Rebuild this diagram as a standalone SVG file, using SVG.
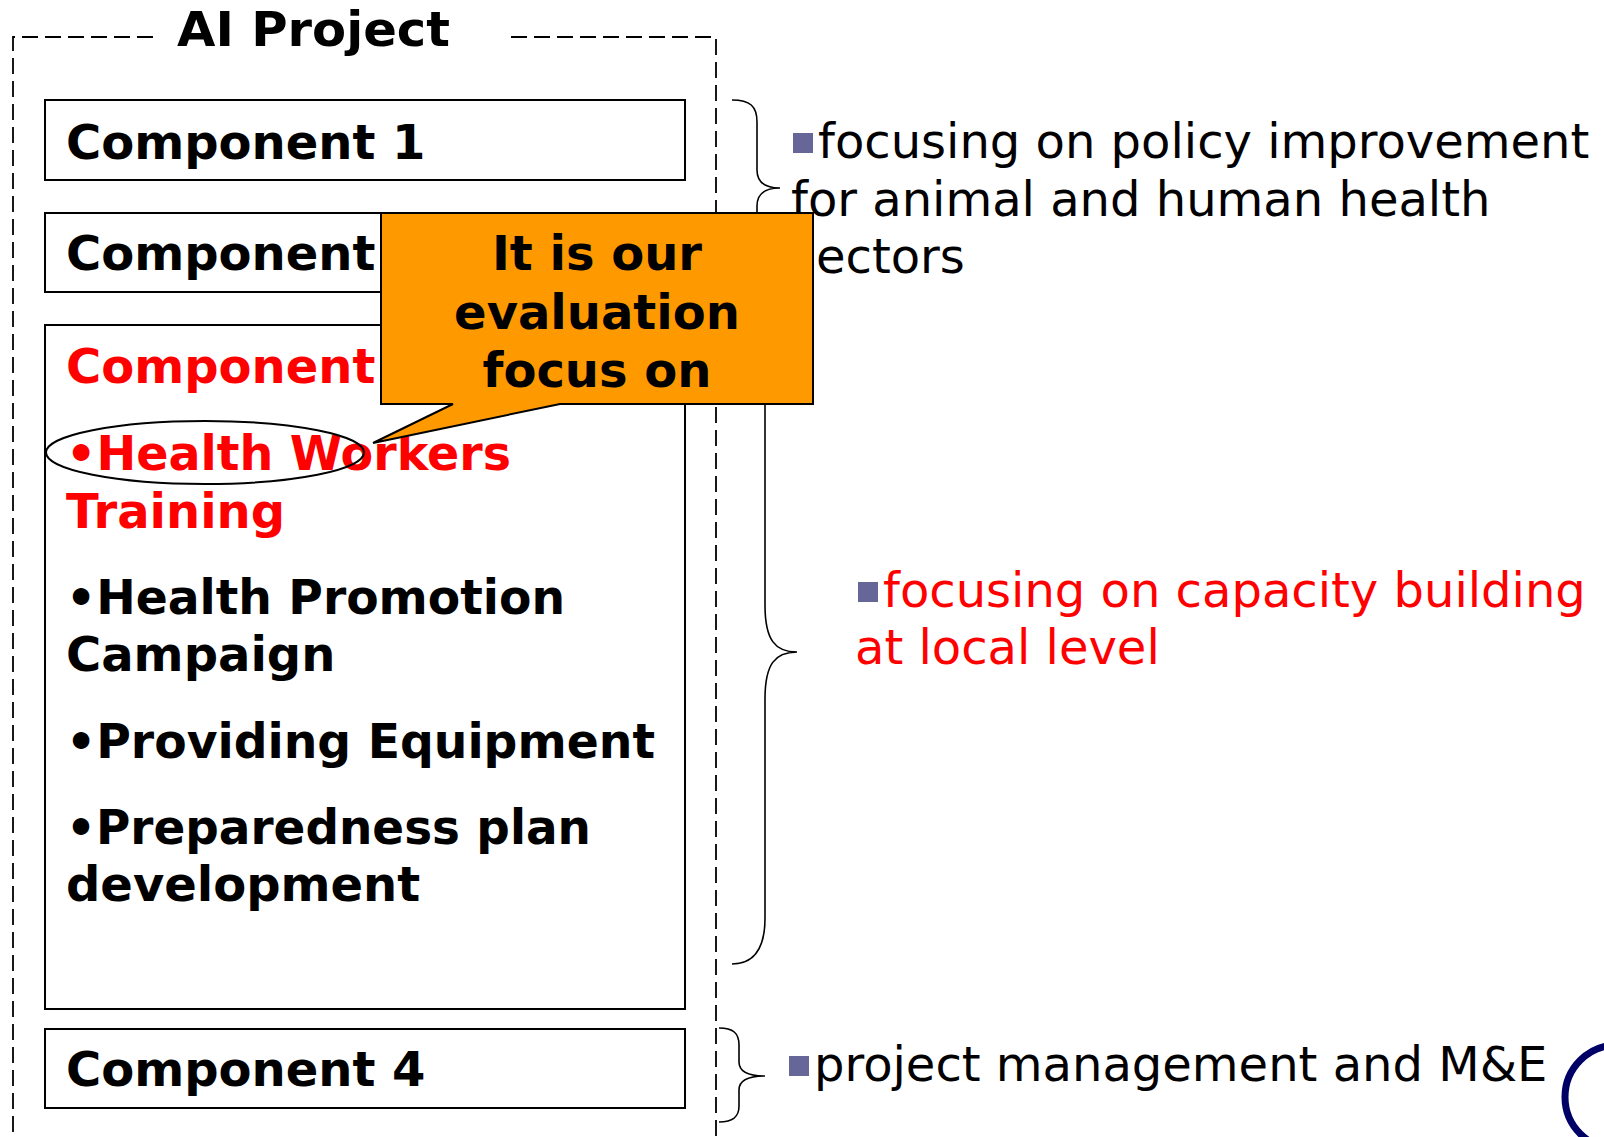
<svg xmlns="http://www.w3.org/2000/svg" width="1604" height="1137" viewBox="0 0 1604 1137">
<style>
  .b { font-family: "DejaVu Sans", Verdana, sans-serif; font-weight: bold; font-size: 48px; fill: #000; }
  .r { font-family: "DejaVu Sans", Verdana, sans-serif; font-size: 48px; fill: #000; }
  .red { fill: #FF0000; }
  .box { fill: #fff; stroke: #000; stroke-width: 2; }
  .dash { fill: none; stroke: #000; stroke-width: 1.8; stroke-dasharray: 16 7; }
  .brace { fill: none; stroke: #000; stroke-width: 1.6; }
  .sq { fill: #666699; }
</style>
<rect x="0" y="0" width="1604" height="1137" fill="#fff"/>

<g id="project-frame">
  <path class="dash" d="M153,37 H13 V1150 M511,37 H716 V1150"/>
  <text class="b" x="177" y="46" textLength="273" lengthAdjust="spacingAndGlyphs">AI Project</text>
</g>

<g id="component1">
  <rect class="box" x="45" y="100" width="640" height="80"/>
  <text class="b" x="66" y="159">Component 1</text>
</g>

<g id="component2">
  <rect class="box" x="45" y="213" width="640" height="79"/>
  <text class="b" x="66" y="270">Component 2</text>
</g>

<g id="component3">
  <rect class="box" x="45" y="325" width="640" height="684"/>
  <text class="b red" x="66" y="383">Component 3</text>
  <text class="b red" x="66" y="470" textLength="445" lengthAdjust="spacingAndGlyphs">•Health Workers</text>
  <text class="b red" x="66" y="528">Training</text>
  <text class="b" x="66" y="614" textLength="499" lengthAdjust="spacingAndGlyphs">•Health Promotion</text>
  <text class="b" x="66" y="671">Campaign</text>
  <text class="b" x="66" y="758" textLength="589" lengthAdjust="spacingAndGlyphs">•Providing Equipment</text>
  <text class="b" x="66" y="844" textLength="525" lengthAdjust="spacingAndGlyphs">•Preparedness plan</text>
  <text class="b" x="66" y="901">development</text>
</g>

<g id="component4">
  <rect class="box" x="45" y="1029" width="640" height="79"/>
  <text class="b" x="66" y="1086">Component 4</text>
</g>

<g id="note1">
  <rect class="sq" x="793" y="133" width="20" height="20"/>
  <text class="r" x="818" y="158">focusing on policy improvement</text>
  <text class="r" x="791" y="216">for animal and human health</text>
  <text class="r" x="791" y="273">sectors</text>
</g>

<g id="note3">
  <rect class="sq" x="858" y="582" width="20" height="20"/>
  <text class="r red" x="883" y="607">focusing on capacity building</text>
  <text class="r red" x="855" y="664">at local level</text>
</g>

<g id="note4">
  <rect class="sq" x="789" y="1056" width="20" height="20"/>
  <text class="r" x="814" y="1081">project management and M&amp;E</text>
</g>

<g id="connectors">
  <path class="brace" d="M732,100 C750,100 757,106 757,122 L757,170 C757,182 765,188 780,188 C765,188 757,194 757,206 L757,254 C757,270 750,276 732,276"/>
  <path class="brace" d="M732,340 C755,340 765,355 765,385 L765,605 C765,640 775,652 797,652 C775,652 765,664 765,699 L765,918 C765,948 755,964 732,964"/>
  <path class="brace" d="M719,1028 C733,1028 739,1033 739,1045 L739,1062 C739,1071 748,1076 765,1076 C748,1076 739,1081 739,1090 L739,1106 C739,1117 733,1122 719,1122"/>
  <ellipse cx="205" cy="452.5" rx="159" ry="31.5" fill="none" stroke="#000" stroke-width="2"/>
</g>

<g id="callout">
  <path d="M381,213 H813 V404 H560 L373,443 L453,404 H381 Z" fill="#FF9900" stroke="#000" stroke-width="2" stroke-linejoin="miter"/>
  <text class="b" x="597" y="270" text-anchor="middle">It is our</text>
  <text class="b" x="597" y="329" text-anchor="middle">evaluation</text>
  <text class="b" x="597" y="387" text-anchor="middle">focus on</text>
</g>

<g id="logo">
  <circle cx="1617" cy="1097" r="52" fill="none" stroke="#000066" stroke-width="7"/>
</g>
</svg>
